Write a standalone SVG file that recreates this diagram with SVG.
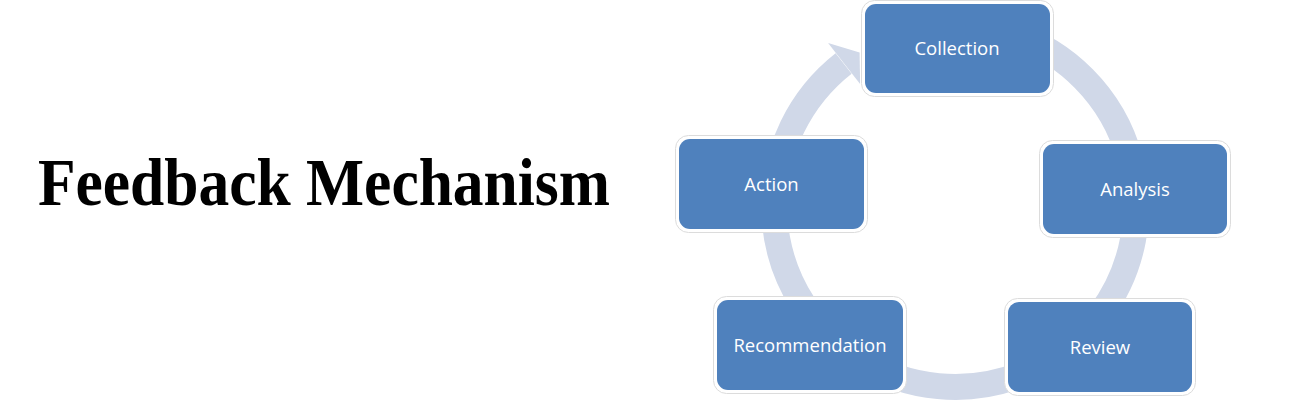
<svg xmlns="http://www.w3.org/2000/svg" width="1300" height="400" viewBox="0 0 1300 400">
  <style>
    .ring { fill: none; stroke: #D0D8E8; stroke-width: 26; }
    .head { fill: #D0D8E8; }
    .halo { fill: #FFFFFF; stroke: #DCDCDC; stroke-width: 1; }
    .box { fill: #4F81BD; }
    .lbl { fill: #FFFFFF; font-family: "Open Sans", "Noto Sans", sans-serif; font-size: 18.5px; text-anchor: middle; }
    .title { fill: #000000; font-family: "Liberation Serif", serif; font-weight: bold; font-size: 68px; }
  </style>
  <rect width="1300" height="400" fill="#FFFFFF"/>
  <text class="title" x="38" y="205" textLength="572" lengthAdjust="spacingAndGlyphs">Feedback Mechanism</text>

  <g id="connectors">
    <path class="ring" d="M 923.6 27.7 A 181 181 0 1 1 843.6 63.4"/>
    <polygon class="head" points="828.1,42.9 859.6,52.5 860.1,83.9"/>
  </g>

  <g id="node-collection">
    <rect class="halo" x="861.5" y="0.5" width="192" height="96" rx="13"/>
    <rect class="box" x="865" y="4" width="185" height="89" rx="11"/>
    <text class="lbl" x="957" y="55">Collection</text>
  </g>
  <g id="node-analysis">
    <rect class="halo" x="1039.5" y="140.5" width="191" height="97" rx="13"/>
    <rect class="box" x="1043" y="144" width="184" height="90" rx="11"/>
    <text class="lbl" x="1135" y="195.5">Analysis</text>
  </g>
  <g id="node-review">
    <rect class="halo" x="1004.5" y="298.5" width="191" height="97" rx="13"/>
    <rect class="box" x="1008" y="302" width="184" height="90" rx="11"/>
    <text class="lbl" x="1100" y="353.5">Review</text>
  </g>
  <g id="node-recommendation">
    <rect class="halo" x="713.5" y="296.5" width="193" height="97" rx="13"/>
    <rect class="box" x="717" y="300" width="186" height="90" rx="11"/>
    <text class="lbl" x="810" y="351.5">Recommendation</text>
  </g>
  <g id="node-action">
    <rect class="halo" x="675.5" y="135.5" width="192" height="97" rx="13"/>
    <rect class="box" x="679" y="139" width="185" height="90" rx="11"/>
    <text class="lbl" x="771.5" y="190.5">Action</text>
  </g>
</svg>
